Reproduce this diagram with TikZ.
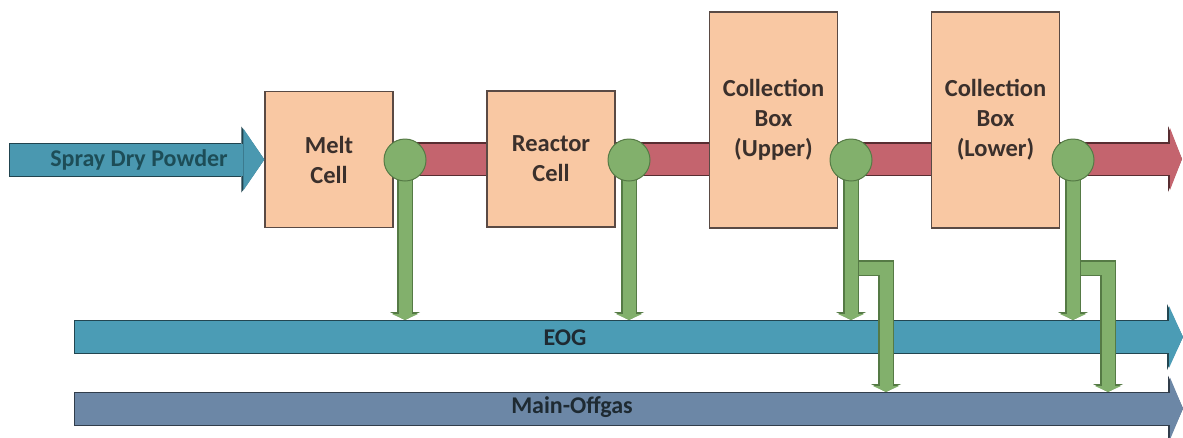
\documentclass[tikz,border=0pt]{standalone}
\usepackage{fontspec}
\setmainfont{Carlito}
\usepackage{xcolor}
\usetikzlibrary{positioning, calc, arrows.meta, backgrounds}

\definecolor{cellfill}{HTML}{F9C8A3}
\definecolor{celledge}{HTML}{5A4A44}
\definecolor{celltext}{HTML}{3B302C}
\definecolor{gasfill}{HTML}{C4646E}
\definecolor{tapfill}{HTML}{82B06C}
\definecolor{tapedge}{HTML}{557A45}
\definecolor{feedfill}{HTML}{4A98B0}
\definecolor{feedtext}{HTML}{1D4D57}
\definecolor{eogfill}{HTML}{4B9CB5}
\definecolor{offfill}{HTML}{6C87A6}
\definecolor{bartext}{HTML}{1E2A32}

\begin{document}
\begin{tikzpicture}[x=1pt, y=-1pt,
    cell/.style={draw=celledge, line width=1.3pt, fill=cellfill, text=celltext, align=center,
      font=\bfseries\fontsize{24.5}{30}\selectfont, minimum width=128pt, inner sep=0pt},
    joint/.style={draw=tapedge, fill=tapfill, circle, minimum size=42pt, inner sep=0pt, line width=1pt},
    tappipe/.style={line width=13pt, draw=tapfill, -{Triangle[length=6pt, width=26pt, line width=0pt]},
      preaction={draw=tapedge, line width=15.5pt, -{Triangle[length=8pt, width=30pt, line width=0pt]}}},
    fatpipe/.style 2 args={line width=32pt, draw=#1, -{Triangle[length=#2, width=62pt, line width=0pt]},
      preaction={draw=black!55!#1, line width=34pt, shorten <=-1pt, -{Triangle[length=#2+2pt, width=66pt, line width=0pt]}}},
    barlabel/.style={font=\bfseries\fontsize{24}{28}\selectfont, text=bartext}]
  \useasboundingbox (0,0) rectangle (1183,437);

  % process cells
  \node[cell, minimum height=136pt] (melt) at (329,159.5) {Melt\\Cell};
  \node[cell, minimum height=136pt] (reactor) at (551,159) {Reactor\\Cell};
  \node[cell, minimum height=216pt] (upper) at (773.5,120) {Collection\\Box\\(Upper)};
  \node[cell, minimum height=216pt] (lower) at (995.5,120) {Collection\\Box\\(Lower)};

  % feed
  \coordinate (feed) at (10,159.5);
  \draw[fatpipe={feedfill}{21pt}] (feed) -- (melt.west);
  \node[font=\bfseries\fontsize{24}{28}\selectfont, text=feedtext] (feedlabel) at (139,160) {Spray Dry Powder};

  % gas line behind the cells
  \coordinate (gasend) at (1182,159);
  \begin{scope}[on background layer]
    \draw[fatpipe={gasfill}{12pt}, line width=31pt] (melt.east |- gasend) -- (gasend);
  \end{scope}

  % headers
  \coordinate (eogstart) at (75,337);
  \coordinate (eogend) at (1183,337);
  \coordinate (eogtop) at (75,320);
  \coordinate (offstart) at (75,408.5);
  \coordinate (offend) at (1183,408.5);
  \coordinate (offtop) at (75,392);
  \draw[fatpipe={eogfill}{14pt}] (eogstart) -- (eogend);
  \draw[fatpipe={offfill}{13pt}] (offstart) -- (offend);
  \node[barlabel] (eoglabel) at (565,338) {EOG};
  \node[barlabel] (offlabel) at (572,407) {Main-Offgas};

  % take-offs
  \coordinate (t1) at (405,160);
  \coordinate (t2) at (629,160);
  \coordinate (t3) at (851,160);
  \coordinate (t4) at (1073,160);
  \coordinate (tap3) at (886,268);
  \coordinate (tap4) at (1108,268);

  \draw[tappipe] (t3 |- tap3) -- (tap3) -- (tap3 |- offtop);
  \draw[tappipe] (t4 |- tap4) -- (tap4) -- (tap4 |- offtop);
  \draw[tappipe] (t1) -- (t1 |- eogtop);
  \draw[tappipe] (t2) -- (t2 |- eogtop);
  \draw[tappipe] (t3) -- (t3 |- eogtop);
  \draw[tappipe] (t4) -- (t4 |- eogtop);
  \node[joint] (j1) at (t1) {};
  \node[joint] (j2) at (t2) {};
  \node[joint] (j3) at (t3) {};
  \node[joint] (j4) at (t4) {};
\end{tikzpicture}
\end{document}
